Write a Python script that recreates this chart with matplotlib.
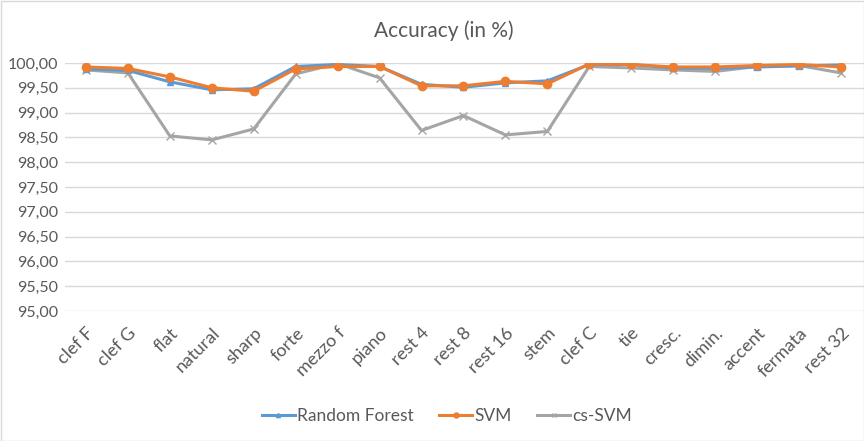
import numpy as np
import matplotlib
matplotlib.use("Agg")
import matplotlib.pyplot as plt
from matplotlib.ticker import FuncFormatter, MultipleLocator

plt.rcParams["font.family"] = ["Lato", "DejaVu Sans"]

categories = ["clef F", "clef G", "flat", "natural", "sharp", "forte", "mezzo f", "piano",
              "rest 4", "rest 8", "rest 16", "stem", "clef C", "tie", "cresc.", "dimin.",
              "accent", "fermata", "rest 32"]

random_forest = [99.88, 99.85, 99.62, 99.46, 99.48, 99.93, 99.97, 99.93, 99.57, 99.51,
                 99.60, 99.64, 99.97, 99.97, 99.90, 99.89, 99.92, 99.94, 99.96]
svm = [99.92, 99.89, 99.72, 99.50, 99.43, 99.88, 99.93, 99.93, 99.54, 99.54,
       99.63, 99.58, 99.98, 99.97, 99.92, 99.92, 99.95, 99.97, 99.92]
cs_svm = [99.86, 99.80, 98.53, 98.45, 98.67, 99.78, 99.99, 99.70, 98.64, 98.94,
          98.55, 98.62, 99.93, 99.90, 99.86, 99.83, 99.93, 99.95, 99.80]

W, H = 864, 441
fig = plt.figure(figsize=(W / 100, H / 100), dpi=100)
ax = fig.add_axes([65 / W, 130 / H, 799 / W, 248 / H])

x = np.arange(len(categories))
ax.plot(x, random_forest, color="#5B9BD5", linewidth=2.2, marker="^", markersize=5,
        label="Random Forest", zorder=3)
ax.plot(x, svm, color="#ED7D31", linewidth=2.2, marker="o", markersize=6,
        label="SVM", zorder=4)
ax.plot(x, cs_svm, color="#A5A5A5", linewidth=2.2, marker="x", markersize=6,
        markeredgewidth=1, label="cs-SVM", zorder=2)

ax.set_ylim(95, 100)
ax.set_xlim(-0.5, len(categories) - 0.5 + 0.05)
ax.yaxis.set_major_locator(MultipleLocator(0.5))
ax.yaxis.set_major_formatter(FuncFormatter(lambda v, p: f"{v:.2f}".replace(".", ",")))
ax.grid(axis="y", color="#D9D9D9", linewidth=1)
ax.set_axisbelow(True)
for s in ax.spines.values():
    s.set_visible(False)
ax.tick_params(length=0, colors="#595959", labelsize=11.5, pad=5)

ax.set_xticks(x)
ax.set_xticklabels(categories, rotation=45, ha="right", rotation_mode="anchor")
ax.tick_params(axis="x", pad=10, labelsize=13)

fig.text(444 / W, 1 - 31 / H, "Accuracy (in %)", ha="center", va="center",
         fontsize=15, color="#595959")

ax.legend(loc="center", bbox_to_anchor=(0.478, -0.425), ncol=3, frameon=False,
          fontsize=12.5, labelcolor="#595959", handlelength=1.9, columnspacing=1.5,
          handletextpad=0.1, markerscale=0.6)

fig.patches.append(plt.Rectangle((0.5 / W, 0.5 / H), 1 - 1 / W, 1 - 1 / H,
                                 transform=fig.transFigure, fill=False,
                                 edgecolor="#D9D9D9", linewidth=1))

fig.savefig("out.png", dpi=100)
